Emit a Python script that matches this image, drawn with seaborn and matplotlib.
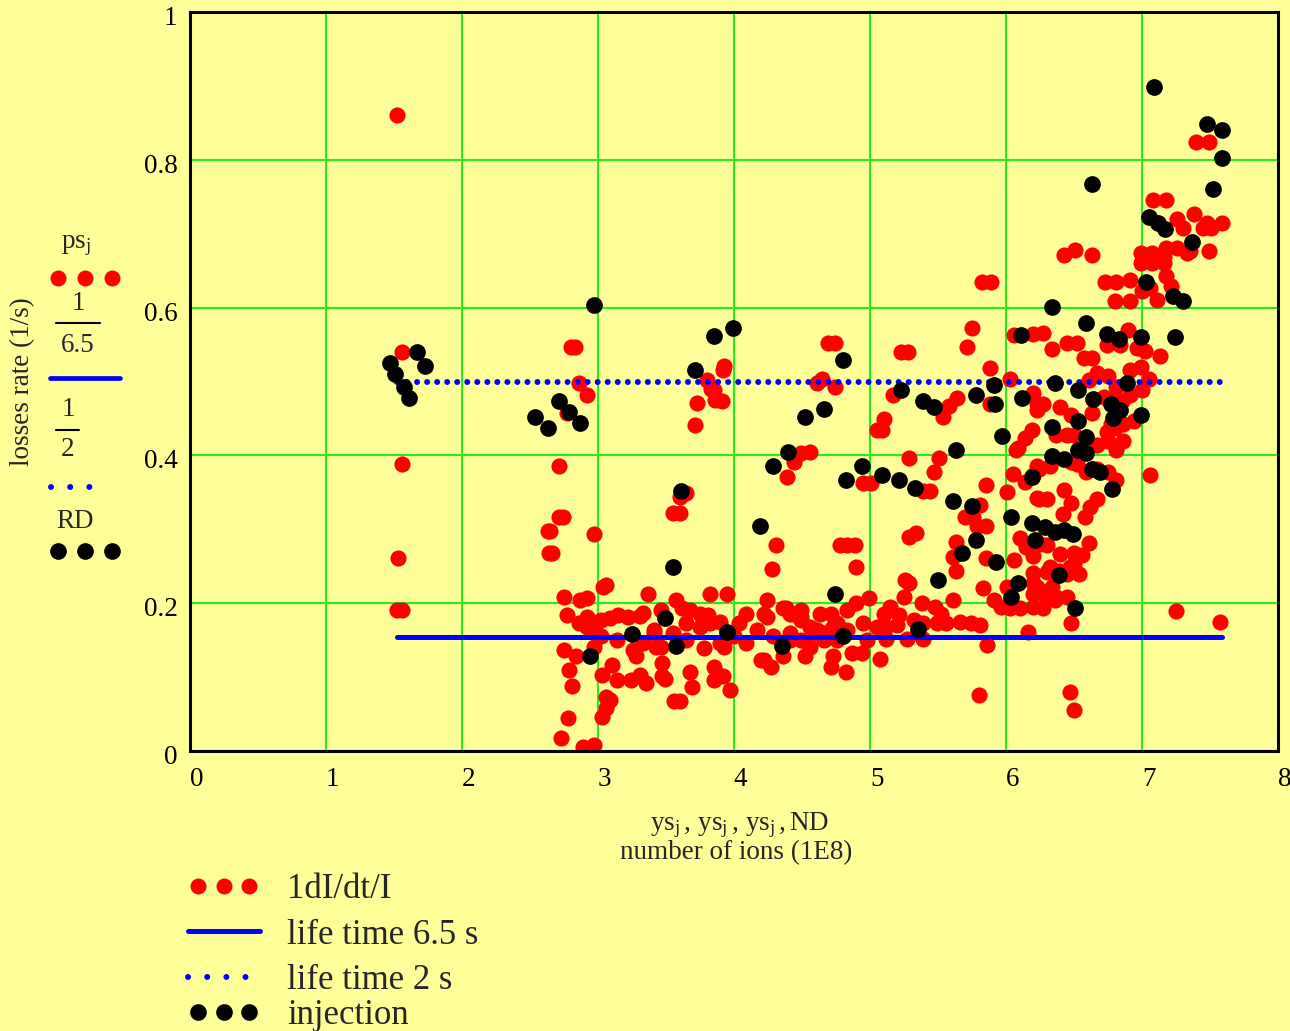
import numpy as np
import matplotlib
matplotlib.use("Agg")
import matplotlib.pyplot as plt
import matplotlib.transforms as mtransforms
import seaborn as sns
from matplotlib.lines import Line2D
from matplotlib.legend_handler import HandlerLine2D

# ---------------------------------------------------------------------------
# Data: loss rate 1/I dI/dt versus number of stored ions (1E8)
# ---------------------------------------------------------------------------
ps_x = [
    1.52, 1.56, 1.56, 1.53, 1.52, 1.56, 2.80, 2.83, 2.86, 2.92, 2.77, 2.71, 2.71, 2.74,
    2.63, 2.65, 2.97, 2.64, 2.66, 2.75, 2.87, 2.92, 3.04, 3.06, 2.77, 2.92, 2.99, 2.92,
    2.75, 2.84, 2.79, 2.81, 3.03, 2.78, 2.73, 2.89, 2.97, 3.03, 3.37, 2.94, 3.02, 3.09,
    3.15, 3.22, 3.31, 3.46, 3.57, 3.62, 3.68, 3.82, 3.95, 3.81, 3.75, 3.65, 3.90, 4.09,
    4.24, 4.36, 4.44, 4.24, 4.04, 4.17, 4.29, 4.41, 4.20, 4.27, 4.36, 4.09, 4.00, 3.90,
    3.78, 3.65, 3.55, 3.41, 3.33, 3.26, 3.14, 3.02, 2.97, 2.86, 2.97, 3.10, 3.14, 3.24,
    3.31, 3.35, 3.28, 3.47, 3.46, 3.49, 3.68, 3.69, 3.85, 3.85, 3.92, 3.97, 3.56, 3.60,
    3.09, 3.06, 4.31, 4.28, 3.60, 3.65, 3.60, 3.55, 4.39, 4.44, 3.73, 3.71, 3.80, 3.85,
    3.91, 3.92, 4.69, 4.74, 3.93, 3.83, 3.86, 4.61, 4.65, 4.74, 4.56, 4.49, 4.78, 4.22,
    4.38, 4.49, 4.61, 4.73, 3.33, 3.75, 3.82, 3.41, 3.43, 3.47, 3.06, 3.93, 4.22, 4.52,
    4.56, 4.71, 4.73,
    5.75, 5.71, 5.23, 5.28, 6.06, 6.20, 6.27, 6.34, 6.45, 6.52, 5.88, 6.03, 5.17, 5.64,
    5.58, 5.54, 5.88, 6.23, 6.27, 6.23, 6.19, 6.14, 6.09, 6.37, 6.45, 6.50, 5.10, 5.05,
    5.09, 4.95, 5.01, 5.29, 5.51, 5.47, 5.39, 5.44, 5.85, 6.01, 6.14, 6.20, 5.81, 5.76,
    5.70, 5.79, 5.85, 5.63, 5.61, 5.63, 5.29, 5.34, 4.83, 4.89, 4.90, 5.85, 6.06, 6.15,
    6.10, 6.20, 6.20, 6.32, 6.39, 6.34, 6.37, 6.45, 6.50, 6.47, 5.83, 6.01, 5.91, 5.96,
    6.03, 6.10, 6.20, 6.27, 6.36, 6.48, 6.47, 6.50, 5.80, 6.16, 5.26, 5.29, 5.25, 5.61,
    5.48, 5.52, 5.38, 5.15, 5.10, 5.21, 4.99, 4.90, 4.83, 4.71, 4.63, 4.49, 4.41, 5.32,
    5.39, 5.49, 5.56, 5.66, 5.74, 5.81, 4.95, 5.05, 5.12, 5.20, 4.76, 4.71, 4.83, 4.63,
    4.49, 4.56, 4.41, 4.49, 4.61, 4.66, 4.76, 4.82, 4.87, 4.94, 5.07, 4.98, 5.12, 5.27,
    5.39, 5.86, 5.82, 5.89, 6.07, 6.05, 6.23, 6.23, 6.20,
    7.40, 7.49, 7.08, 7.18, 7.26, 7.38, 7.48, 7.59, 7.30, 7.45, 7.51, 7.49, 7.18, 7.26,
    7.33, 6.99, 7.07, 7.16, 6.99, 7.07, 7.16, 7.18, 7.21, 7.11, 7.00, 7.06, 6.43, 6.51,
    6.63, 6.73, 6.81, 6.91, 6.80, 6.91, 6.57, 6.63, 6.74, 6.84, 6.90, 6.96, 7.02, 7.13,
    6.67, 6.75, 6.91, 6.99, 7.05, 6.61, 6.81, 6.91, 7.00, 6.72, 6.79, 6.85, 6.20, 6.40,
    6.48, 6.63, 6.77, 6.86, 6.94, 6.74, 6.80, 6.67, 6.75, 6.86, 6.81, 6.48, 6.52, 6.32,
    6.24, 6.59, 6.67, 6.75, 6.81, 6.24, 6.30, 6.43, 6.48, 6.42, 6.67, 6.62, 6.58, 6.25,
    6.40, 6.30, 6.61, 6.56, 6.50, 6.54, 6.45, 6.30, 6.23, 6.27, 6.20, 7.06, 7.25, 7.57,
    7.35,
]
ps_y = [
    0.861, 0.540, 0.389, 0.261, 0.191, 0.191, 0.547, 0.547, 0.498, 0.482, 0.457, 0.386, 0.316, 0.316,
    0.298, 0.298, 0.294, 0.268, 0.268, 0.209, 0.204, 0.207, 0.222, 0.224, 0.184, 0.182, 0.175, 0.168,
    0.137, 0.128, 0.110, 0.088, 0.103, 0.044, 0.017, 0.006, 0.008, 0.046, 0.212, 0.171, 0.177, 0.180,
    0.184, 0.182, 0.183, 0.191, 0.204, 0.193, 0.191, 0.213, 0.213, 0.184, 0.168, 0.173, 0.175, 0.186,
    0.204, 0.193, 0.186, 0.182, 0.173, 0.164, 0.155, 0.150, 0.123, 0.114, 0.128, 0.146, 0.155, 0.146,
    0.139, 0.150, 0.159, 0.159, 0.146, 0.137, 0.150, 0.155, 0.141, 0.173, 0.164, 0.116, 0.096, 0.096,
    0.103, 0.092, 0.128, 0.119, 0.141, 0.098, 0.107, 0.087, 0.114, 0.096, 0.101, 0.083, 0.067, 0.067,
    0.069, 0.058, 0.279, 0.246, 0.344, 0.349, 0.322, 0.322, 0.371, 0.391, 0.471, 0.441, 0.502, 0.489,
    0.473, 0.516, 0.552, 0.552, 0.521, 0.490, 0.475, 0.498, 0.504, 0.493, 0.404, 0.403, 0.279, 0.186,
    0.193, 0.182, 0.164, 0.168, 0.187, 0.186, 0.173, 0.164, 0.141, 0.101, 0.073, 0.141, 0.123, 0.128,
    0.141, 0.114, 0.128,
    0.572, 0.547, 0.540, 0.540, 0.563, 0.564, 0.565, 0.544, 0.552, 0.552, 0.518, 0.504, 0.482, 0.477,
    0.467, 0.452, 0.470, 0.470, 0.470, 0.461, 0.434, 0.423, 0.410, 0.428, 0.428, 0.428, 0.449, 0.434,
    0.434, 0.362, 0.362, 0.397, 0.397, 0.378, 0.352, 0.352, 0.360, 0.351, 0.364, 0.373, 0.333, 0.317,
    0.317, 0.304, 0.304, 0.283, 0.263, 0.243, 0.290, 0.295, 0.279, 0.279, 0.249, 0.261, 0.258, 0.276,
    0.288, 0.241, 0.227, 0.249, 0.243, 0.222, 0.209, 0.209, 0.268, 0.249, 0.220, 0.222, 0.204, 0.195,
    0.194, 0.194, 0.195, 0.194, 0.204, 0.173, 0.080, 0.055, 0.076, 0.161, 0.231, 0.227, 0.209, 0.204,
    0.195, 0.186, 0.200, 0.195, 0.186, 0.184, 0.207, 0.200, 0.191, 0.186, 0.186, 0.191, 0.186, 0.177,
    0.173, 0.173, 0.173, 0.175, 0.173, 0.170, 0.173, 0.168, 0.168, 0.170, 0.173, 0.164, 0.164, 0.161,
    0.177, 0.168, 0.159, 0.150, 0.159, 0.150, 0.150, 0.107, 0.132, 0.132, 0.125, 0.150, 0.152, 0.152,
    0.152, 0.143, 0.635, 0.635, 0.407, 0.375, 0.385, 0.342, 0.264,
    0.824, 0.824, 0.745, 0.745, 0.720, 0.726, 0.714, 0.714, 0.708, 0.708, 0.708, 0.677, 0.680, 0.680,
    0.674, 0.674, 0.674, 0.669, 0.660, 0.660, 0.660, 0.643, 0.629, 0.610, 0.623, 0.626, 0.671, 0.678,
    0.671, 0.635, 0.635, 0.638, 0.609, 0.609, 0.532, 0.532, 0.549, 0.549, 0.570, 0.546, 0.541, 0.535,
    0.512, 0.507, 0.515, 0.519, 0.503, 0.502, 0.493, 0.482, 0.488, 0.479, 0.476, 0.473, 0.484, 0.466,
    0.454, 0.457, 0.443, 0.443, 0.446, 0.431, 0.437, 0.414, 0.420, 0.420, 0.407, 0.391, 0.388, 0.385,
    0.382, 0.378, 0.381, 0.378, 0.367, 0.341, 0.341, 0.353, 0.336, 0.321, 0.341, 0.330, 0.316, 0.280,
    0.267, 0.279, 0.282, 0.265, 0.253, 0.239, 0.239, 0.242, 0.222, 0.213, 0.213, 0.373, 0.189, 0.174,
    0.676,
]

# injection points (RD)
rd_x = [
    1.67, 1.47, 1.51, 1.57, 1.61, 1.73, 2.71, 2.79, 2.87, 2.54, 2.63, 2.97, 2.94,
    3.99, 3.85, 3.71, 4.66, 4.52, 4.40, 4.29, 3.61, 4.19, 3.55, 3.49, 3.25, 3.95, 3.57, 4.35,
    6.11, 4.80, 5.91, 5.23, 5.78, 6.12, 5.39, 5.47, 5.92, 5.97, 5.63, 4.94, 4.82, 5.09, 5.21,
    5.33, 6.19, 5.61, 5.75, 6.04, 6.19, 6.21, 5.78, 5.68, 5.93, 5.50, 6.09, 6.04, 4.74, 4.80, 5.35,
    7.09, 7.48, 7.59, 7.59, 7.52, 6.63, 7.05, 7.12, 7.17, 7.37, 7.03, 7.23, 7.30, 6.34, 6.59,
    6.74, 6.83, 6.99, 7.24, 6.36, 6.53, 6.64, 6.89, 6.77, 6.84, 6.79, 6.99, 6.34, 6.53, 6.59,
    6.34, 6.43, 6.53, 6.59, 6.63, 6.69, 6.78, 6.29, 6.36, 6.43, 6.49, 6.39, 6.51,
]
rd_y = [
    0.540, 0.525, 0.510, 0.493, 0.477, 0.521, 0.474, 0.459, 0.444, 0.452, 0.437, 0.603, 0.128,
    0.573, 0.562, 0.515, 0.463, 0.452, 0.404, 0.386, 0.352, 0.304, 0.249, 0.180, 0.158, 0.161, 0.142, 0.142,
    0.563, 0.529, 0.495, 0.488, 0.482, 0.477, 0.474, 0.466, 0.470, 0.426, 0.407, 0.386, 0.367, 0.374, 0.367,
    0.356, 0.371, 0.338, 0.331, 0.316, 0.308, 0.286, 0.286, 0.268, 0.256, 0.231, 0.228, 0.209, 0.212, 0.156, 0.165,
    0.899, 0.848, 0.840, 0.803, 0.760, 0.767, 0.723, 0.714, 0.707, 0.689, 0.635, 0.616, 0.609, 0.601, 0.579,
    0.564, 0.558, 0.560, 0.560, 0.498, 0.488, 0.476, 0.498, 0.469, 0.462, 0.451, 0.454, 0.439, 0.447, 0.425,
    0.399, 0.395, 0.407, 0.403, 0.381, 0.377, 0.354, 0.303, 0.297, 0.299, 0.293, 0.238, 0.193,
]

life_long = 6.5   # s
life_short = 2.0  # s

x_ticks = [0, 1, 2, 3, 4, 5, 6, 7, 8]
x_tick_labels = ["0", "1", "2", "3", "4", "5", "6", "7", "8"]
y_ticks = [0, 0.2, 0.4, 0.6, 0.8, 1.0]
y_tick_labels = ["0", "0.2", "0.4", "0.6", "0.8", "1"]

# ---------------------------------------------------------------------------
# Styling
# ---------------------------------------------------------------------------
BG = "#FFFF99"
GRID = "#22EE22"
RED = "#FF0000"
BLUE = "#0000FF"
FS = 19.5

sns.set_style("white")
plt.rcParams["font.family"] = ["Liberation Serif", "DejaVu Serif"]
plt.rcParams["mathtext.fontset"] = "custom"
plt.rcParams["mathtext.rm"] = "Liberation Serif"
plt.rcParams["mathtext.it"] = "Liberation Serif:italic"

W, H = 1290, 1031
fig = plt.figure(figsize=(W / 100, H / 100), dpi=100, facecolor=BG)


def fx(px):
    return px / W


def fy(py):
    return 1 - py / H


ax = fig.add_axes([fx(190), fy(751), fx(1278) - fx(190), fy(12) - fy(751)])
ax.set_facecolor(BG)

MS = 135                      # marker area (pt^2)
DOT = (0, (0.01, 3.2))        # sparse dots for the key glyphs
DOT_TRACE = (0, (0.01, 1.67)) # tighter dots along the 1/2 trace

n = len(ps_x)
sns.scatterplot(x=ps_x, y=ps_y, color=RED, s=MS, linewidth=0, ax=ax,
                legend=False, zorder=3)

# 1/6.5 and 1/2 traces over the measured ion numbers
sns.lineplot(x=ps_x, y=np.full(n, 1 / life_long), estimator=None,
             color=BLUE, lw=3.6, ax=ax, zorder=4)
sns.lineplot(x=ps_x, y=np.full(n, 1 / life_short), estimator=None,
             color=BLUE, lw=4.3, linestyle=DOT_TRACE, dash_capstyle="round",
             ax=ax, zorder=5)

sns.scatterplot(x=rd_x, y=rd_y, color="black", s=MS + 10, linewidth=0, ax=ax,
                legend=False, zorder=6)

ax.set_xlim(0, 8)
ax.set_ylim(0, 1)
ax.set_xticks(x_ticks)
ax.set_xticklabels(x_tick_labels, ha="left")
ax.set_yticks(y_ticks)
ax.set_yticklabels(y_tick_labels)
ax.tick_params(axis="both", length=0, labelsize=FS, colors="black")
ax.tick_params(axis="x", pad=11.5)
ax.tick_params(axis="y", pad=9)
shift = mtransforms.ScaledTranslation(0, -0.035, fig.dpi_scale_trans)
for lab in ax.get_yticklabels():
    lab.set_transform(lab.get_transform() + shift)
ax.set_xlabel("")
ax.set_ylabel("")
ax.grid(True, color=GRID, lw=1.5, zorder=0)
ax.set_axisbelow(True)
for sp in ax.spines.values():
    sp.set_color("black")
    sp.set_linewidth(2.2)
    sp.set_zorder(10)

# axis titles
fig.text(fx(23), fy(382), "losses rate (1/s)", rotation=90, ha="center",
         va="center", fontsize=FS)
fig.text(fx(740), fy(825),
         r"$\mathrm{ys}_{\mathrm{j}}\,,\,\mathrm{ys}_{\mathrm{j}}\,,\,"
         r"\mathrm{ys}_{\mathrm{j}}\,,\mathrm{ND}$",
         ha="center", va="center", fontsize=FS)
fig.text(fx(736), fy(853), "number of ions (1E8)", ha="center", va="center",
         fontsize=FS)

# trace expressions stacked beside the y axis
fig.text(fx(76), fy(246), r"$\mathrm{ps}_{\mathrm{j}}$", ha="center",
         va="center", fontsize=FS)
fig.add_artist(Line2D([fx(58), fx(85), fx(112)], [fy(278)] * 3, ls="none",
                      marker="o", ms=11.5, mew=0, color=RED))
fig.text(fx(78), fy(304), "1", ha="center", va="center", fontsize=FS)
fig.add_artist(Line2D([fx(56), fx(100)], [fy(323)] * 2, color="black", lw=1.5))
fig.text(fx(78), fy(345), "6.5", ha="center", va="center", fontsize=FS)
fig.add_artist(Line2D([fx(50), fx(120)], [fy(378)] * 2, color=BLUE, lw=3.4,
                      solid_capstyle="round"))
fig.text(fx(68), fy(410), "1", ha="center", va="center", fontsize=FS)
fig.add_artist(Line2D([fx(56), fx(79)], [fy(430)] * 2, color="black", lw=1.5))
fig.text(fx(68), fy(450), "2", ha="center", va="center", fontsize=FS)
fig.add_artist(Line2D([fx(51), fx(108)], [fy(487)] * 2, color=BLUE, lw=4.3,
                      ls=DOT, dash_capstyle="round"))
fig.text(fx(75), fy(521), "RD", ha="center", va="center", fontsize=FS)
fig.add_artist(Line2D([fx(58), fx(85), fx(112)], [fy(551)] * 3, ls="none",
                      marker="o", ms=12, mew=0, color="black"))

# legend below the plot
h_ps = Line2D([], [], ls="none", marker="o", ms=11.5, mew=0, color=RED)
h_long = Line2D([], [], color=BLUE, lw=3.6)
h_short = Line2D([], [], color=BLUE, lw=4.3, ls=DOT, dash_capstyle="round")
h_rd = Line2D([], [], ls="none", marker="o", ms=12, mew=0, color="black")
full_width = {h_long: HandlerLine2D(marker_pad=0),
              h_short: HandlerLine2D(marker_pad=0)}

leg_kw = dict(frameon=False, fontsize=25, numpoints=3, handlelength=2.07,
              handletextpad=0.78, borderpad=0, borderaxespad=0,
              loc="center left")
fig.legend([h_ps, h_long, h_short],
           ["1dI/dt/I", "life time 6.5 s", "life time 2 s"],
           bbox_to_anchor=(fx(188), fy(935)), labelspacing=0.36,
           handler_map=full_width, **leg_kw)
fig.legend([h_rd], ["injection"], bbox_to_anchor=(fx(188), fy(1016)), **leg_kw)

fig.savefig("out.png", dpi=100, facecolor=BG)
